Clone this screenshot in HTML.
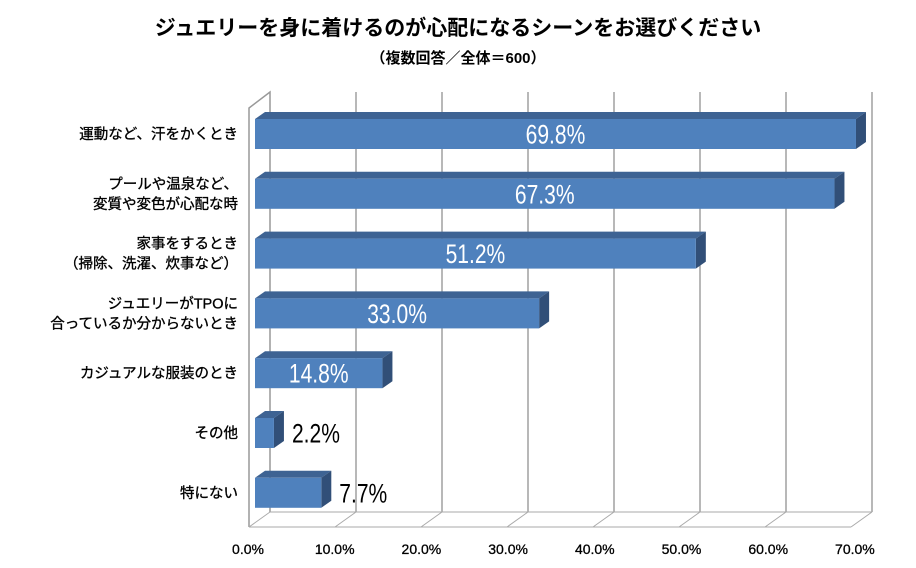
<!DOCTYPE html>
<html><head><meta charset="utf-8">
<style>
body{margin:0;background:#fff;}
svg{display:block;font-family:"Liberation Sans","Noto Sans CJK JP",sans-serif;}
</style></head>
<body>
<svg id="chart" width="916" height="568" viewBox="0 0 916 568" xmlns="http://www.w3.org/2000/svg">
<text x="458" y="35" text-anchor="middle" font-size="21" font-weight="bold" fill="#000">ジュエリーを身に着けるのが心配になるシーンをお選びください</text>
<text x="458" y="63" text-anchor="middle" font-size="15" font-weight="bold" fill="#000">（複数回答／全体＝600）</text>
<g id="grid"></g>
<g id="bars"></g>
<g id="labels"></g>
</svg>
<script>
const categories=[["運動など、汗をかくとき"],["プールや温泉など、","変質や変色が心配な時"],["家事をするとき","（掃除、洗濯、炊事など）"],["ジュエリーがTPOに","合っているか分からないとき"],["カジュアルな服装のとき"],["その他"],["特にない"]];
const values=[69.8,67.3,51.2,33.0,14.8,2.2,7.7];
const ticks=[0,10,20,30,40,50,60,70];
const tickLabels=["0.0%","10.0%","20.0%","30.0%","40.0%","50.0%","60.0%","70.0%"];
const NS="http://www.w3.org/2000/svg";
const x0=255,pxPer=8.61,dx=21,dy=-15;
const xF=v=>x0+v*pxPer;
const yC=i=>134+i*59.8;
function mk(t,a,p){const e=document.createElementNS(NS,t);for(const k in a)e.setAttribute(k,a[k]);p.appendChild(e);return e;}
const grid=document.getElementById('grid'),bars=document.getElementById('bars'),labels=document.getElementById('labels');
const floorF=527,floorB=512,topB=92,wallF=249;
let w=mk('polyline',{points:`${wallF},527 ${wallF},108 ${wallF+dx},${topB} ${wallF+dx},${floorB}`,fill:'none',stroke:'#999','stroke-width':1.5},grid);


ticks.forEach((t,i)=>{
  const fx=wallF+t*8.6, bx=fx+dx;
  if(i>0){
    const g=mk('line',{x1:bx,y1:topB,x2:bx,y2:floorB,stroke:'#888','stroke-width':1.2},grid);
    
    
  }
  mk('line',{x1:fx,y1:floorF,x2:bx,y2:floorB,stroke:'#aaa','stroke-width':1},grid);
  const tl=mk('text',{x:248+t*8.67,y:554,'text-anchor':'middle','font-size':14,fill:'#000','stroke':'#000','stroke-width':0.3},labels);
  tl.textContent=tickLabels[i];
  
  
});
mk('line',{x1:wallF,y1:floorF,x2:wallF+70*8.6,y2:floorF,stroke:'#aaa','stroke-width':1},grid);
mk('line',{x1:wallF+dx,y1:floorB,x2:wallF+dx+70*8.6,y2:floorB,stroke:'#aaa','stroke-width':1},grid);
values.forEach((v,i)=>{
  const cy=yC(i),top=cy-15,bot=cy+15,r=xF(v),d=10,e=7;
  const g=mk('g',{},bars);
  
  
  mk('polygon',{points:`${x0},${top} ${x0+d},${top-e} ${r+d},${top-e} ${r},${top}`,fill:'#3e6393'},g);
  mk('polygon',{points:`${r},${top} ${r+d},${top-e} ${r+d},${bot-e} ${r},${bot}`,fill:'#314f78'},g);
  mk('rect',{x:x0,y:top,width:r-x0,height:30,fill:'#4f81bd'},g);
  const inside=v>10;
  const tx=inside?(x0+r)/2:r+d+8;
  const t=mk('text',{x:0,y:0,'text-anchor':inside?'middle':'start','font-size':27,fill:inside?'#fff':'#000',transform:`translate(${tx},${cy+9.5}) scale(0.78,1)`},labels);
  t.textContent=v.toFixed(1)+'%';
  
  
  const lines=categories[i];
  lines.forEach((ln,j)=>{
    const c=mk('text',{x:238,y:cy+5+(j-(lines.length-1)/2)*20,'text-anchor':'end','font-size':14.5,fill:'#000','stroke':'#000','stroke-width':0.35},labels);
    c.textContent=ln;
    
    
  });
});
</script>
</body></html>
